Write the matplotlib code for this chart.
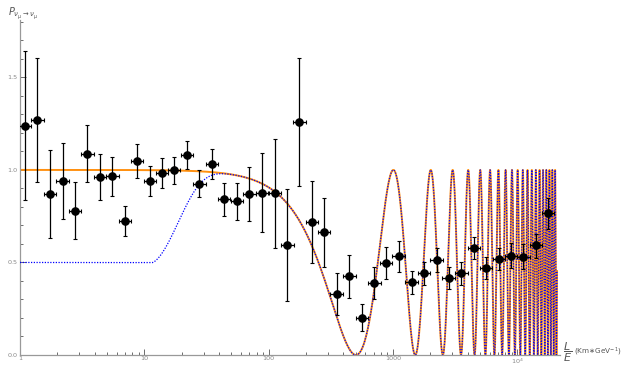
import numpy as np
import matplotlib
matplotlib.use("Agg")
import matplotlib.pyplot as plt
from matplotlib.ticker import FixedLocator, NullFormatter

# measured survival probability, bins in L/E (km/GeV)
le_centers = [1.10, 1.38, 1.74, 2.20, 2.77, 3.48, 4.40, 5.53, 7.0, 8.73,
              11.1, 13.9, 17.3, 22.1, 27.7, 35.1, 43.8, 55.4, 70.0, 88.5,
              112, 141.5, 176.6, 223, 279, 353, 446, 561, 708, 880,
              1113, 1416, 1770, 2250, 2810, 3550, 4470, 5610, 7100, 8910,
              11200, 14100, 17700]
p_meas = [1.239, 1.27, 0.870, 0.940, 0.780, 1.086, 0.960, 0.968, 0.724, 1.047,
          0.941, 0.985, 0.998, 1.081, 0.926, 1.032, 0.843, 0.831, 0.872, 0.876,
          0.876, 0.595, 1.258, 0.721, 0.663, 0.328, 0.425, 0.202, 0.389, 0.496,
          0.533, 0.393, 0.441, 0.514, 0.414, 0.441, 0.577, 0.472, 0.517, 0.535,
          0.531, 0.593, 0.766]
p_hi = [1.64, 1.605, 1.11, 1.148, 0.934, 1.24, 1.085, 1.072, 0.807, 1.139,
        1.022, 1.067, 1.072, 1.157, 0.998, 1.112, 0.932, 0.932, 1.018, 1.090,
        1.169, 0.896, 1.604, 0.942, 0.849, 0.445, 0.541, 0.274, 0.474, 0.582,
        0.616, 0.456, 0.505, 0.58, 0.476, 0.501, 0.638, 0.528, 0.58, 0.604,
        0.598, 0.656, 0.847]
p_lo = [0.838, 0.934, 0.631, 0.735, 0.625, 0.934, 0.836, 0.861, 0.643, 0.958,
        0.859, 0.903, 0.924, 1.004, 0.854, 0.951, 0.753, 0.730, 0.726, 0.665,
        0.580, 0.294, 0.914, 0.499, 0.477, 0.216, 0.310, 0.130, 0.303, 0.409,
        0.447, 0.330, 0.377, 0.447, 0.355, 0.377, 0.517, 0.413, 0.458, 0.470,
        0.466, 0.524, 0.683]
bin_half_dex = 0.05

# two-flavour model parameters
dm2 = 2.46e-3        # eV^2
sin2_2theta = 1.0
onset_le = 11.5      # L/E where the dotted model starts to rise
onset_scale = 10.4
onset_power = 1.5

x = np.array(le_centers)
y = np.array(p_meas)
yerr = [y - np.array(p_lo), np.array(p_hi) - y]
xerr = [x - x * 10 ** -bin_half_dex, x * 10 ** bin_half_dex - x]

le = np.logspace(0, np.log10(20900), 400000)
p_osc = 1 - sin2_2theta * np.sin(1.267 * dm2 * le) ** 2
t = np.clip(le - onset_le, 0, None) / onset_scale
p_dot = p_osc - 0.5 * np.exp(-t ** onset_power)

fig = plt.figure(figsize=(6.24, 3.66), dpi=100)
ax = fig.add_axes([20 / 624, 11 / 366, 540 / 624, 335 / 366])

ax.plot(le, p_osc, color="#ff9010", lw=1.4, zorder=2)
ax.plot(le, p_dot, color="#0000ff", lw=0.9, ls=(0, (1, 1.2)), zorder=3)
ax.errorbar(x, y, yerr=yerr, xerr=xerr, fmt="o", color="black", ms=5.2,
            elinewidth=0.9, capsize=1.6, capthick=0.8, zorder=5)

ax.set_xscale("log")
ax.set_xlim(1, 10 ** 4.344)
ax.set_ylim(0, 1.81)

for s in ["top", "right"]:
    ax.spines[s].set_visible(False)
for s in ["left", "bottom"]:
    ax.spines[s].set_color("#999999")
    ax.spines[s].set_linewidth(0.9)

ax.xaxis.set_major_locator(FixedLocator([1, 10, 100, 1000, 10000]))
ax.set_xticklabels(["1", "10", "100", "1000", r"$10^4$"])
ax.xaxis.set_minor_locator(FixedLocator(
    [m * 10 ** d for d in range(5) for m in range(2, 10) if m * 10 ** d < 22000]))
ax.xaxis.set_minor_formatter(NullFormatter())
ax.set_yticks([0, 0.5, 1.0, 1.5])
ax.set_yticklabels(["0.0", "0.5", "1.0", "1.5"])
ax.yaxis.set_minor_locator(FixedLocator(np.arange(0, 1.81, 0.1)))
ax.tick_params(which="both", direction="in", color="#555555", labelsize=4.6,
               labelcolor="#888888", width=0.6)
ax.tick_params(axis="x", pad=1)
ax.tick_params(axis="y", pad=2)
ax.tick_params(which="major", length=4)
ax.tick_params(which="minor", length=2.2)

fig.text(8 / 624, 1 - 14 / 366, r"$P_{\nu_\mu\rightarrow\nu_\mu}$",
         fontsize=7, color="#555555", va="center", ha="left")
fig.text(563 / 624, 1 - 352 / 366, r"$\dfrac{L}{E}$",
         fontsize=8, color="#555555", va="center", ha="left")
fig.text(574 / 624, 1 - 352 / 366, "(Km∗GeV$^{-1}$)",
         fontsize=5.2, color="#555555", va="center", ha="left")

fig.savefig("out.png", dpi=100)
plt.close(fig)
